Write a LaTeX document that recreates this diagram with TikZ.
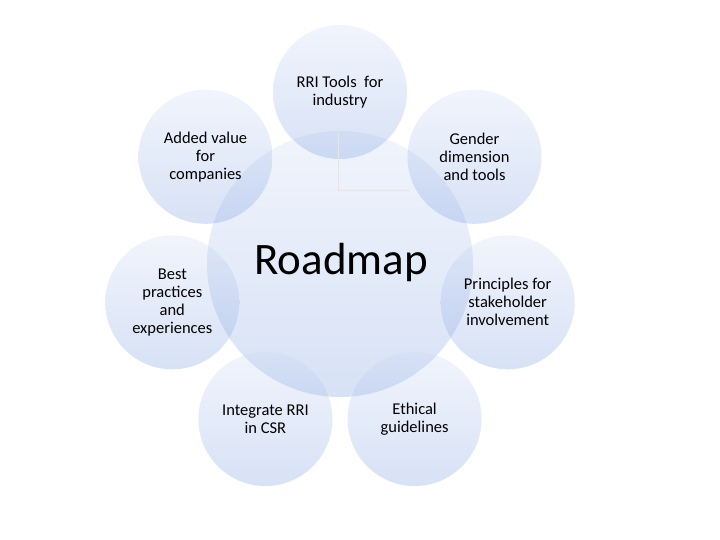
\documentclass[tikz,border=0pt]{standalone}
\usepackage{fontspec}
\setmainfont{Carlito}
\definecolor{ctop}{RGB}{200,215,245}
\definecolor{cbot}{RGB}{100,140,220}
\tikzset{
  bubble/.style={circle, inner sep=0pt, top color=ctop, bottom color=cbot, fill opacity=0.25, draw=none},
  outer/.style={bubble, minimum size=134pt},
  lbl/.style={align=center, font=\fontsize{16.5}{18}\selectfont, text=black},
}
\begin{document}
\begin{tikzpicture}[x=1pt,y=-1pt]
\fill[white] (0,0) rectangle (720,540);
\useasboundingbox (0,0) rectangle (720,540);
\node[bubble, minimum size=266pt] (c) at (340,264) {};
\node[outer] (o1) at (340,92) {};
\node[outer] (o2) at (205.5,156.8) {};
\node[outer] (o3) at (172.3,302.3) {};
\node[outer] (o4) at (265.4,419) {};
\node[outer] (o5) at (414.6,419) {};
\node[outer] (o6) at (507.7,302.3) {};
\node[outer] (o7) at (474.5,156.8) {};
\coordinate (l1) at (338,133);
\coordinate (l2) at (338,190);
\coordinate (l3) at (410,190);
\draw[gray!20, line width=0.6pt] (l1) -- (l2) -- (l3);
\node[font=\fontsize{45}{50}\selectfont] (t0) at (341,263) {Roadmap};
\node[lbl] (t1) at (o1) {RRI Tools~ for\\industry};
\node[lbl] (t2) at (o2) {Added value\\for\\companies};
\node[lbl] (t3) at (o3) {Best\\practices\\and\\experiences};
\node[lbl] (t4) at (o4) {Integrate RRI\\in CSR};
\node[lbl] (t5) at (o5) {Ethical\\guidelines};
\node[lbl] (t6) at (o6) {Principles for\\stakeholder\\involvement};
\node[lbl] (t7) at (o7) {Gender\\dimension\\and tools};
\end{tikzpicture}
\end{document}
